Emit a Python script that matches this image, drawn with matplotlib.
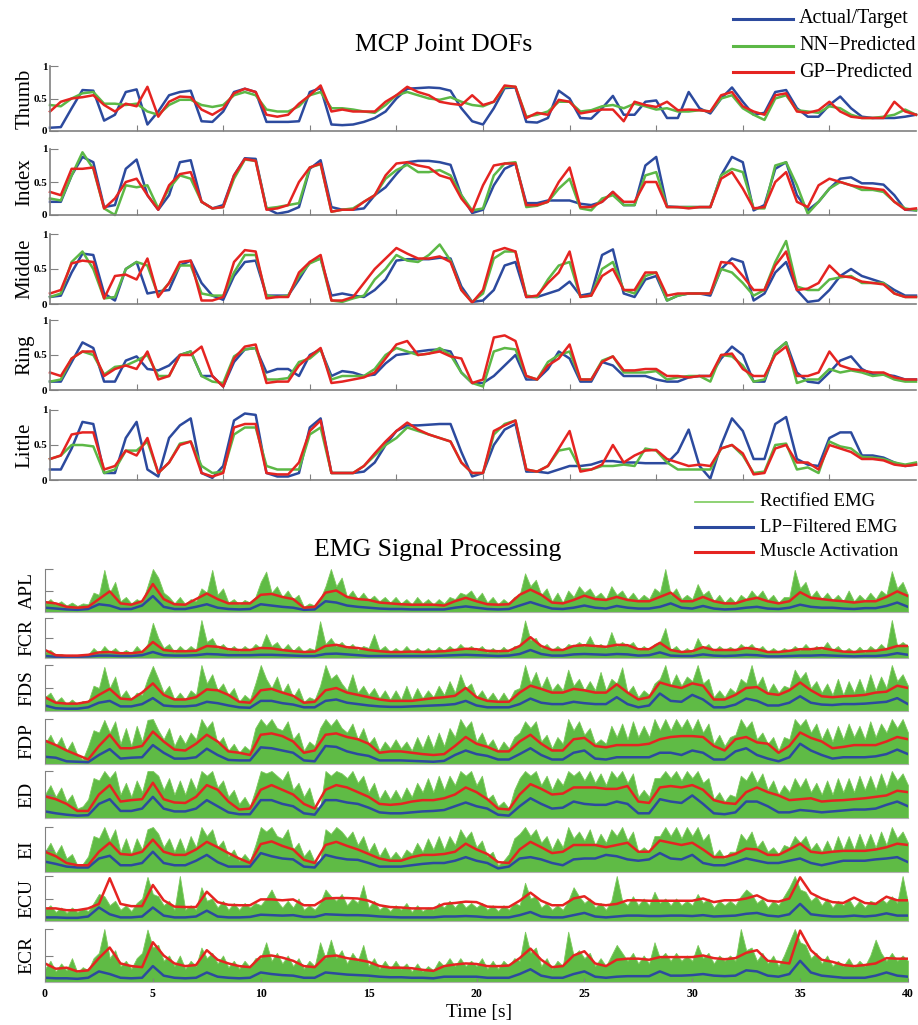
"""
plot.py
-------
MCP joint DOF predictions (top) and EMG processing stages (bottom).
Values are read off the reference figure, in percent of the axis range.
"""

import numpy as np
import matplotlib
matplotlib.use("Agg")
import matplotlib.pyplot as plt
from matplotlib.lines import Line2D

plt.rcParams["font.family"] = ["Liberation Serif", "DejaVu Serif"]

W, H = 918, 1025
BLUE = "#2c4a9e"
GREEN = "#5cb846"
RED = "#e52421"
EMG_GREEN = "#5fbb45"
EMG_EDGE = "#7ccb5c"
GREY = "#808080"

# ── Joint angles, 0.5 s steps, percent ────────────────────────────────────

thumb_actual = [5, 6, 35, 63, 62, 16, 25, 60, 64, 10,
                30, 55, 60, 62, 15, 14, 30, 60, 65, 60,
                14, 14, 14, 15, 60, 66, 10, 9, 10, 14,
                20, 30, 50, 65, 66, 67, 66, 62, 35, 15,
                10, 35, 66, 67, 14, 13, 20, 62, 50, 20,
                19, 35, 54, 25, 25, 45, 47, 20, 20, 60,
                35, 27, 50, 67, 45, 25, 28, 60, 63, 35,
                22, 22, 40, 53, 35, 22, 20, 20, 20, 22, 25]
thumb_nn = [40, 38, 50, 58, 60, 42, 42, 40, 42, 30,
            25, 40, 48, 48, 40, 37, 40, 55, 60, 55,
            33, 30, 30, 38, 55, 60, 35, 35, 33, 30,
            28, 40, 55, 60, 55, 50, 48, 52, 45, 40,
            38, 45, 68, 68, 22, 25, 30, 45, 45, 30,
            32, 38, 40, 35, 42, 38, 33, 35, 30, 30,
            32, 30, 50, 55, 35, 25, 17, 50, 55, 32,
            30, 28, 38, 35, 25, 20, 20, 22, 25, 33, 25]
thumb_gp = [30, 45, 50, 52, 55, 40, 30, 42, 38, 68,
            22, 45, 53, 52, 33, 25, 35, 58, 65, 60,
            25, 22, 25, 42, 55, 70, 30, 33, 30, 30,
            30, 45, 55, 68, 60, 55, 45, 42, 40, 55,
            40, 45, 70, 68, 20, 28, 25, 48, 45, 27,
            30, 33, 33, 15, 45, 40, 37, 45, 32, 33,
            32, 30, 55, 60, 38, 30, 25, 55, 58, 30,
            28, 32, 45, 30, 22, 20, 20, 20, 45, 30, 25]

index_actual = [20, 20, 60, 88, 80, 12, 15, 70, 84, 30,
                8, 30, 80, 83, 20, 10, 15, 60, 86, 85,
                10, 2, 5, 12, 70, 83, 12, 8, 8, 10,
                30, 42, 62, 80, 82, 82, 80, 76, 30, 3,
                8, 45, 70, 78, 18, 18, 22, 22, 22, 17,
                15, 20, 35, 15, 15, 75, 88, 13, 12, 12,
                12, 12, 60, 88, 80, 7, 15, 70, 80, 30,
                7, 20, 40, 55, 57, 48, 48, 46, 30, 8, 7]
index_nn = [25, 22, 60, 95, 70, 10, 0, 45, 42, 45,
            10, 40, 60, 55, 20, 10, 12, 55, 84, 82,
            10, 12, 15, 18, 72, 77, 5, 8, 10, 20,
            30, 55, 68, 76, 65, 65, 68, 60, 30, 7,
            10, 60, 78, 80, 12, 14, 20, 40, 55, 10,
            7, 25, 30, 15, 15, 60, 65, 12, 12, 12,
            12, 12, 60, 70, 65, 10, 10, 75, 80, 45,
            2, 20, 40, 50, 45, 38, 38, 35, 20, 10, 7]
index_gp = [35, 30, 70, 70, 72, 10, 25, 50, 55, 30,
            8, 45, 62, 65, 20, 10, 12, 60, 85, 82,
            8, 10, 15, 50, 72, 78, 5, 8, 8, 20,
            30, 60, 78, 80, 75, 72, 60, 55, 25, 5,
            45, 75, 78, 78, 15, 15, 20, 50, 72, 12,
            12, 20, 35, 20, 20, 50, 50, 12, 12, 10,
            12, 12, 55, 65, 40, 10, 12, 50, 65, 20,
            12, 45, 55, 50, 45, 42, 40, 38, 20, 8, 10]

middle_actual = [10, 12, 45, 72, 70, 15, 5, 50, 60, 15,
                 18, 20, 55, 62, 30, 12, 6, 40, 60, 62,
                 12, 12, 12, 35, 60, 65, 12, 15, 12, 10,
                 20, 35, 62, 64, 64, 64, 66, 65, 25, 3,
                 5, 20, 55, 60, 10, 10, 15, 20, 32, 12,
                 15, 70, 78, 15, 10, 35, 40, 5, 12, 15,
                 15, 12, 50, 65, 60, 5, 15, 45, 60, 20,
                 3, 5, 20, 40, 50, 40, 35, 30, 20, 12, 12]
middle_nn = [10, 15, 60, 75, 50, 8, 10, 50, 60, 55,
             12, 30, 55, 55, 15, 12, 12, 45, 70, 70,
             12, 10, 12, 40, 58, 65, 5, 3, 8, 12,
             35, 50, 70, 62, 60, 70, 85, 62, 20, 3,
             15, 65, 75, 75, 12, 10, 35, 55, 60, 10,
             12, 50, 60, 20, 15, 40, 45, 5, 12, 15,
             15, 15, 50, 45, 30, 12, 20, 60, 90, 25,
             20, 20, 35, 38, 40, 30, 30, 30, 15, 10, 10]
middle_gp = [15, 20, 58, 62, 60, 8, 40, 42, 35, 65,
             10, 30, 60, 62, 5, 5, 10, 60, 77, 75,
             8, 10, 10, 45, 60, 70, 5, 5, 10, 30,
             50, 65, 80, 72, 65, 65, 68, 60, 20, 2,
             20, 75, 80, 75, 10, 12, 30, 45, 75, 10,
             12, 40, 50, 20, 20, 45, 45, 12, 15, 15,
             15, 15, 60, 58, 40, 20, 20, 55, 75, 20,
             22, 30, 55, 40, 38, 32, 30, 28, 15, 10, 10]

ring_actual = [12, 12, 40, 68, 60, 12, 12, 42, 48, 30,
               28, 35, 50, 55, 20, 20, 5, 40, 58, 60,
               25, 30, 30, 20, 50, 58, 20, 27, 25, 20,
               22, 38, 50, 52, 55, 57, 58, 55, 25, 10,
               10, 20, 35, 50, 15, 15, 30, 55, 45, 12,
               12, 40, 35, 20, 20, 20, 15, 12, 12, 18,
               20, 20, 45, 62, 50, 12, 12, 55, 68, 25,
               12, 10, 25, 42, 48, 30, 22, 22, 20, 15, 15]
ring_nn = [12, 15, 45, 55, 50, 22, 33, 35, 42, 50,
           20, 20, 50, 55, 20, 12, 10, 48, 58, 60,
           15, 15, 17, 40, 45, 58, 15, 20, 20, 20,
           30, 50, 60, 55, 50, 52, 60, 50, 25, 10,
           5, 55, 60, 58, 20, 15, 40, 50, 55, 15,
           15, 42, 48, 25, 25, 25, 27, 15, 18, 20,
           20, 12, 50, 48, 35, 12, 15, 55, 68, 10,
           15, 15, 30, 25, 28, 25, 20, 22, 15, 12, 12]
ring_gp = [25, 20, 45, 55, 55, 20, 30, 35, 30, 55,
           15, 20, 50, 50, 62, 20, 5, 45, 62, 65,
           10, 12, 12, 35, 48, 60, 10, 12, 15, 18,
           25, 45, 65, 70, 50, 52, 55, 48, 45, 10,
           15, 75, 78, 70, 20, 15, 35, 45, 65, 15,
           15, 40, 48, 28, 28, 30, 30, 20, 20, 18,
           20, 20, 50, 52, 30, 20, 20, 50, 62, 20,
           20, 25, 55, 35, 30, 28, 25, 25, 18, 15, 15]

little_actual = [15, 15, 45, 83, 80, 10, 10, 60, 83, 15,
                 5, 60, 78, 88, 10, 3, 20, 85, 95, 93,
                 10, 5, 5, 10, 75, 88, 10, 10, 10, 12,
                 25, 50, 70, 78, 78, 79, 80, 80, 40, 5,
                 10, 50, 72, 80, 12, 12, 10, 15, 20, 20,
                 22, 27, 27, 25, 25, 24, 24, 24, 40, 72,
                 20, 2, 50, 88, 70, 30, 30, 80, 90, 30,
                 22, 20, 60, 68, 68, 35, 35, 32, 25, 20, 22]
little_nn = [30, 35, 50, 50, 48, 10, 15, 42, 42, 55,
             10, 25, 52, 55, 20, 10, 12, 65, 75, 75,
             20, 15, 15, 15, 65, 75, 10, 10, 10, 20,
             35, 50, 60, 75, 70, 65, 60, 55, 25, 10,
             10, 65, 80, 85, 15, 12, 20, 42, 45, 15,
             15, 20, 20, 22, 20, 45, 42, 25, 15, 15,
             15, 15, 45, 50, 35, 10, 12, 50, 52, 15,
             18, 10, 55, 48, 45, 33, 32, 30, 25, 22, 25]
little_gp = [30, 35, 65, 68, 68, 15, 20, 42, 35, 60,
             10, 25, 50, 55, 10, 5, 10, 75, 80, 80,
             10, 8, 8, 25, 70, 85, 10, 10, 10, 20,
             38, 55, 70, 82, 72, 65, 60, 55, 25, 10,
             10, 70, 78, 85, 15, 12, 20, 45, 70, 12,
             15, 22, 50, 25, 35, 42, 43, 30, 25, 20,
             22, 20, 45, 50, 38, 8, 10, 45, 50, 25,
             25, 15, 50, 45, 40, 30, 30, 28, 22, 20, 22]

# ── EMG: rectified (0.25 s steps), LP-filtered and activation (0.5 s) ─────

apl_raw = [20, 30, 18, 25, 15, 22, 14, 20, 18, 45, 40, 98, 45, 70, 25, 35,
           20, 30, 22, 60, 100, 80, 45, 35, 20, 35, 18, 30, 25, 55, 45, 98,
           40, 55, 22, 30, 18, 28, 22, 35, 70, 94, 45, 60, 35, 50, 30, 40,
           12, 20, 15, 30, 60, 100, 60, 80, 35, 50, 30, 45, 28, 38, 25, 35,
           22, 35, 20, 30, 18, 35, 20, 30, 18, 30, 20, 35, 30, 45, 40, 50,
           30, 45, 22, 35, 18, 30, 20, 35, 40, 90, 60, 75, 40, 55, 25, 45,
           22, 50, 35, 60, 45, 55, 35, 45, 30, 60, 40, 50, 30, 45, 28, 40,
           30, 55, 45, 100, 40, 55, 30, 40, 30, 65, 40, 50, 25, 40, 22, 35,
           22, 40, 30, 50, 35, 50, 28, 40, 22, 35, 35, 98, 55, 70, 35, 50,
           30, 45, 28, 40, 25, 50, 25, 40, 28, 45, 30, 50, 40, 95, 55, 70, 40]
apl_lp = [10, 8, 6, 5, 7, 18, 15, 7, 7, 15, 37, 12, 7, 7, 12, 18, 10, 7, 6, 7,
          18, 15, 12, 10, 5, 6, 25, 22, 15, 12, 10, 8, 7, 7, 6, 6, 6, 6, 10, 13,
          10, 7, 6, 7, 15, 23, 15, 8, 7, 10, 15, 10, 8, 14, 10, 8, 8, 12, 20, 10,
          8, 14, 8, 6, 7, 10, 12, 8, 7, 10, 17, 12, 10, 10, 8, 7, 9, 9, 14, 22, 12]
apl_act = [23, 20, 12, 10, 12, 30, 48, 20, 17, 25, 65, 30, 18, 17, 30, 43, 30, 20, 20, 20,
           40, 42, 35, 30, 10, 12, 45, 50, 35, 30, 28, 22, 20, 18, 17, 17, 17, 15, 25, 33,
           25, 18, 17, 18, 40, 52, 40, 22, 20, 28, 38, 30, 28, 35, 28, 25, 25, 35, 45, 25,
           25, 35, 25, 20, 20, 28, 33, 25, 20, 25, 46, 33, 30, 27, 25, 22, 25, 25, 35, 48, 37]

fcr_raw = [15, 20, 8, 10, 5, 8, 5, 7, 8, 25, 12, 30, 15, 25, 12, 20,
           12, 30, 15, 35, 88, 50, 25, 35, 15, 30, 18, 30, 20, 95, 40, 50,
           25, 35, 20, 30, 18, 30, 20, 35, 25, 60, 30, 40, 20, 35, 18, 30,
           15, 25, 20, 92, 35, 50, 30, 40, 25, 35, 20, 30, 25, 60, 20, 30,
           15, 25, 15, 30, 15, 25, 15, 25, 15, 28, 18, 30, 20, 35, 22, 30,
           20, 30, 15, 25, 15, 28, 15, 30, 30, 94, 45, 50, 25, 35, 20, 30,
           20, 35, 30, 40, 30, 55, 28, 35, 25, 65, 30, 40, 30, 40, 20, 30,
           20, 35, 40, 75, 20, 30, 15, 25, 15, 50, 25, 35, 18, 30, 20, 28,
           20, 35, 25, 35, 20, 30, 15, 25, 15, 25, 18, 30, 20, 35, 20, 30,
           22, 40, 20, 30, 15, 25, 15, 28, 15, 30, 20, 35, 22, 95, 30, 40, 30]
fcr_lp = [5, 3, 3, 3, 4, 6, 6, 5, 5, 7, 15, 7, 6, 6, 7, 10, 9, 7, 7, 7,
          8, 8, 7, 6, 5, 5, 10, 11, 9, 7, 5, 5, 5, 5, 5, 5, 5, 6, 7, 8,
          7, 6, 5, 6, 10, 20, 10, 6, 6, 9, 10, 9, 8, 10, 9, 6, 7, 14, 6, 5,
          5, 9, 6, 5, 6, 8, 7, 4, 4, 5, 6, 6, 7, 6, 5, 4, 5, 5, 7, 12, 8]
fcr_act = [20, 7, 6, 6, 8, 14, 15, 12, 12, 15, 40, 20, 17, 17, 18, 30, 28, 22, 20, 20,
           25, 24, 20, 17, 15, 16, 30, 33, 27, 25, 20, 17, 15, 15, 16, 15, 16, 17, 20, 23,
           22, 18, 17, 18, 30, 52, 30, 20, 20, 30, 32, 30, 28, 33, 32, 22, 22, 38, 20, 15,
           17, 27, 20, 20, 20, 25, 22, 15, 15, 18, 22, 22, 25, 20, 16, 15, 17, 18, 22, 30, 30]

fds_raw = [30, 40, 20, 30, 15, 25, 15, 22, 20, 55, 50, 96, 50, 75, 30, 45,
           25, 40, 35, 70, 98, 70, 40, 55, 25, 40, 25, 45, 35, 100, 60, 80,
           45, 60, 35, 50, 20, 35, 25, 60, 100, 70, 50, 75, 40, 60, 30, 50,
           20, 30, 25, 55, 100, 70, 80, 60, 45, 80, 40, 55, 35, 50, 28, 45,
           25, 45, 25, 55, 25, 50, 28, 45, 30, 55, 35, 65, 40, 80, 50, 60,
           30, 45, 25, 40, 22, 40, 22, 45, 50, 100, 60, 85, 50, 75, 45, 60,
           45, 90, 55, 70, 45, 65, 45, 85, 45, 70, 60, 95, 40, 55, 30, 45,
           35, 60, 70, 100, 55, 80, 55, 75, 65, 100, 60, 70, 30, 45, 30, 50,
           40, 70, 60, 100, 55, 75, 40, 60, 40, 55, 50, 90, 70, 85, 50, 65,
           40, 60, 35, 70, 35, 65, 40, 70, 40, 80, 45, 75, 50, 100, 65, 80, 55]
fds_lp = [12, 6, 5, 5, 8, 18, 22, 10, 10, 15, 28, 12, 10, 10, 12, 20, 17, 12, 8, 7,
          22, 22, 17, 14, 8, 8, 22, 25, 18, 15, 12, 10, 9, 9, 10, 11, 12, 13, 15, 22,
          12, 8, 8, 8, 15, 27, 18, 15, 15, 20, 17, 15, 15, 30, 15, 8, 12, 38, 22, 20,
          35, 25, 8, 8, 14, 27, 22, 12, 12, 18, 32, 18, 14, 13, 15, 15, 16, 18, 20, 28, 15]
fds_act = [30, 18, 16, 16, 20, 35, 48, 27, 25, 40, 60, 35, 25, 25, 30, 47, 45, 35, 20, 18,
           45, 48, 40, 33, 18, 20, 45, 50, 40, 35, 30, 25, 22, 22, 22, 25, 28, 30, 33, 50,
           30, 22, 20, 20, 40, 55, 48, 40, 40, 48, 45, 40, 40, 58, 40, 25, 30, 62, 55, 50,
           60, 55, 25, 25, 35, 50, 52, 38, 35, 45, 62, 45, 32, 30, 32, 33, 35, 40, 42, 55, 50]

fdp_raw = [45, 65, 40, 60, 30, 50, 20, 10, 40, 75, 70, 98, 70, 95, 45, 80,
           40, 85, 50, 98, 100, 75, 55, 80, 40, 65, 45, 70, 55, 100, 80, 95,
           45, 60, 30, 45, 25, 40, 30, 80, 100, 85, 100, 80, 75, 95, 55, 70,
           30, 50, 40, 80, 100, 85, 100, 80, 70, 90, 55, 80, 45, 60, 30, 50,
           35, 55, 35, 50, 30, 60, 35, 65, 35, 70, 40, 80, 60, 100, 80, 95,
           50, 70, 40, 55, 30, 50, 35, 60, 70, 95, 80, 95, 50, 65, 35, 60,
           45, 100, 75, 95, 65, 80, 45, 55, 45, 85, 60, 90, 55, 95, 60, 85,
           60, 100, 75, 100, 75, 100, 80, 100, 75, 100, 70, 90, 45, 65, 40, 60,
           65, 100, 80, 95, 55, 70, 45, 60, 30, 60, 55, 100, 85, 100, 70, 90,
           55, 80, 50, 85, 55, 90, 60, 85, 55, 95, 60, 90, 70, 100, 80, 100, 70]
fdp_lp = [16, 14, 6, 5, 4, 20, 33, 12, 14, 15, 42, 25, 12, 12, 15, 34, 20, 9, 8, 8,
          37, 35, 30, 25, 8, 6, 40, 38, 28, 22, 18, 8, 8, 8, 7, 6, 5, 7, 20, 30,
          22, 18, 10, 10, 22, 35, 20, 10, 10, 25, 30, 12, 10, 15, 15, 15, 15, 25, 25, 20,
          30, 25, 10, 10, 28, 35, 20, 12, 6, 15, 45, 30, 20, 12, 15, 15, 15, 17, 22, 32, 22]
fdp_act = [52, 42, 30, 20, 10, 40, 65, 35, 35, 40, 72, 50, 32, 30, 45, 65, 50, 28, 25, 20,
           65, 68, 62, 50, 25, 30, 65, 68, 60, 55, 45, 25, 28, 28, 25, 22, 20, 22, 40, 60,
           45, 38, 28, 28, 50, 65, 45, 30, 30, 55, 58, 40, 37, 42, 42, 42, 45, 55, 60, 62,
           62, 60, 40, 30, 55, 60, 48, 45, 25, 40, 70, 58, 50, 35, 38, 42, 42, 42, 50, 60, 55]

ed_raw = [50, 70, 45, 65, 35, 50, 20, 25, 40, 85, 80, 100, 85, 100, 50, 75,
          45, 80, 55, 100, 100, 90, 60, 85, 50, 80, 50, 85, 60, 100, 90, 100,
          65, 80, 45, 60, 30, 45, 25, 60, 100, 95, 100, 90, 80, 100, 60, 75,
          45, 65, 25, 20, 100, 90, 100, 95, 85, 100, 75, 90, 55, 75, 40, 60,
          40, 60, 40, 65, 45, 75, 55, 85, 55, 90, 60, 90, 70, 100, 90, 100,
          70, 90, 40, 50, 25, 35, 20, 60, 85, 100, 90, 100, 70, 90, 60, 85,
          70, 100, 90, 100, 80, 100, 75, 95, 70, 100, 85, 100, 75, 95, 45, 60,
          45, 85, 85, 100, 85, 100, 80, 100, 85, 100, 75, 85, 40, 55, 35, 50,
          45, 90, 80, 100, 75, 95, 60, 80, 50, 70, 55, 85, 65, 85, 55, 75,
          50, 80, 50, 85, 55, 85, 55, 90, 60, 90, 60, 95, 65, 100, 80, 95, 70]
ed_lp = [14, 10, 7, 5, 6, 30, 40, 15, 15, 20, 45, 20, 14, 14, 20, 38, 25, 12, 8, 8,
         38, 38, 30, 25, 10, 7, 38, 38, 33, 30, 22, 12, 10, 10, 12, 14, 15, 17, 25, 33,
         25, 20, 7, 5, 25, 42, 30, 20, 22, 35, 30, 28, 28, 35, 30, 10, 10, 40, 35, 32,
         48, 30, 10, 8, 12, 35, 35, 25, 12, 12, 17, 15, 12, 14, 16, 18, 18, 20, 28, 35, 25]
ed_act = [46, 40, 30, 15, 15, 50, 70, 35, 38, 40, 75, 40, 33, 32, 45, 70, 60, 35, 18, 20,
          60, 70, 60, 50, 30, 20, 60, 70, 65, 55, 45, 30, 28, 30, 35, 38, 38, 42, 50, 65,
          55, 40, 20, 18, 50, 72, 62, 50, 52, 65, 65, 65, 62, 62, 68, 35, 32, 65, 68, 65,
          70, 60, 38, 32, 30, 55, 65, 55, 48, 38, 40, 42, 35, 37, 38, 40, 42, 45, 48, 58, 55]

ei_raw = [45, 65, 40, 60, 30, 40, 15, 18, 35, 80, 75, 100, 70, 95, 45, 75,
          40, 75, 50, 95, 100, 85, 55, 75, 45, 75, 45, 80, 55, 100, 80, 95,
          55, 70, 35, 50, 25, 40, 25, 60, 100, 90, 100, 80, 75, 95, 50, 65,
          35, 50, 22, 25, 95, 85, 100, 90, 75, 90, 60, 80, 45, 65, 35, 55,
          30, 45, 30, 50, 40, 65, 45, 75, 50, 80, 50, 80, 60, 95, 75, 90,
          55, 70, 35, 45, 15, 25, 40, 75, 85, 100, 80, 95, 65, 80, 50, 75,
          55, 100, 75, 90, 70, 95, 60, 85, 65, 95, 80, 100, 70, 90, 45, 55,
          45, 80, 80, 100, 80, 100, 75, 100, 80, 100, 70, 85, 35, 50, 30, 45,
          45, 85, 70, 90, 55, 70, 45, 55, 40, 60, 55, 80, 65, 80, 50, 65,
          45, 70, 45, 80, 50, 80, 50, 85, 55, 85, 55, 90, 60, 100, 75, 90, 65]
ei_lp = [23, 18, 12, 10, 10, 30, 36, 15, 15, 20, 45, 20, 15, 15, 25, 38, 22, 12, 12, 12,
         42, 35, 30, 28, 12, 10, 38, 32, 28, 27, 20, 12, 12, 12, 15, 18, 20, 20, 25, 33,
         25, 20, 8, 12, 30, 33, 28, 20, 15, 28, 30, 30, 38, 35, 28, 25, 28, 42, 30, 28,
         38, 20, 15, 15, 22, 30, 25, 20, 20, 25, 30, 20, 15, 20, 25, 25, 25, 28, 30, 33, 22]
ei_act = [45, 35, 20, 15, 15, 45, 65, 40, 38, 45, 72, 45, 38, 38, 50, 67, 55, 42, 30, 20,
          62, 68, 58, 50, 27, 20, 60, 67, 58, 50, 40, 30, 25, 25, 33, 38, 38, 40, 45, 63,
          50, 40, 22, 20, 50, 67, 55, 42, 45, 60, 60, 60, 55, 60, 65, 45, 45, 70, 65, 60,
          65, 50, 33, 33, 40, 52, 50, 38, 38, 50, 63, 45, 42, 45, 47, 47, 47, 50, 55, 63, 60]

ecu_raw = [25, 35, 20, 30, 18, 30, 20, 28, 22, 40, 60, 55, 35, 45, 25, 35,
           22, 40, 50, 98, 60, 55, 35, 45, 25, 100, 25, 35, 25, 75, 45, 50,
           30, 45, 25, 40, 25, 40, 30, 40, 35, 50, 70, 45, 30, 45, 30, 50,
           25, 35, 25, 40, 70, 55, 45, 60, 35, 50, 40, 80, 30, 45, 25, 35,
           22, 35, 25, 40, 20, 35, 22, 30, 25, 40, 30, 45, 30, 45, 30, 40,
           30, 40, 25, 35, 22, 35, 25, 40, 35, 85, 50, 55, 30, 40, 25, 35,
           25, 45, 75, 55, 40, 50, 30, 40, 25, 45, 100, 45, 35, 55, 35, 50,
           35, 65, 40, 50, 35, 50, 35, 45, 35, 60, 40, 50, 30, 45, 35, 45,
           35, 55, 70, 60, 40, 50, 30, 45, 35, 55, 75, 100, 70, 65, 45, 55,
           35, 50, 30, 45, 35, 50, 30, 45, 30, 45, 40, 50, 40, 55, 40, 100, 40]
ecu_lp = [8, 8, 7, 7, 10, 30, 15, 8, 8, 10, 30, 12, 8, 8, 10, 23, 10, 8, 8, 9,
          14, 13, 12, 13, 9, 9, 15, 14, 13, 13, 12, 10, 9, 8, 8, 8, 8, 10, 10, 11,
          10, 8, 8, 8, 13, 20, 10, 8, 8, 13, 18, 10, 8, 10, 12, 12, 11, 11, 12, 12,
          11, 13, 10, 11, 12, 16, 18, 12, 10, 15, 38, 15, 12, 10, 10, 12, 10, 12, 17, 12, 12]
ecu_act = [28, 28, 24, 24, 28, 38, 95, 38, 33, 33, 80, 46, 32, 31, 31, 65, 42, 36, 35, 35,
           48, 48, 46, 48, 35, 35, 50, 51, 51, 50, 45, 35, 31, 30, 28, 28, 28, 38, 40, 43,
           42, 32, 31, 31, 45, 63, 45, 35, 35, 50, 55, 38, 35, 38, 46, 46, 45, 45, 45, 45,
           45, 50, 42, 46, 46, 50, 57, 45, 43, 50, 97, 62, 50, 42, 40, 52, 40, 38, 54, 46, 46]

ecr_raw = [25, 40, 20, 35, 22, 45, 18, 28, 22, 45, 55, 100, 45, 60, 30, 40,
           25, 45, 55, 99, 65, 70, 40, 50, 30, 50, 25, 40, 30, 65, 45, 55,
           35, 50, 28, 40, 25, 40, 28, 45, 45, 75, 40, 55, 35, 50, 30, 45,
           25, 40, 30, 75, 45, 80, 45, 60, 35, 55, 40, 70, 30, 45, 25, 40,
           25, 40, 25, 35, 20, 35, 20, 30, 22, 40, 30, 45, 30, 45, 30, 40,
           30, 45, 25, 40, 25, 40, 30, 45, 40, 95, 55, 65, 30, 45, 25, 40,
           30, 95, 50, 60, 45, 55, 30, 45, 30, 50, 70, 55, 40, 55, 35, 50,
           35, 75, 45, 55, 40, 55, 40, 50, 40, 70, 45, 55, 35, 50, 40, 50,
           40, 100, 60, 65, 40, 55, 35, 50, 30, 50, 75, 100, 75, 70, 45, 55,
           35, 50, 30, 40, 30, 45, 28, 40, 30, 50, 80, 55, 40, 55, 40, 50, 40]
ecr_lp = [8, 7, 7, 6, 8, 20, 15, 8, 7, 8, 30, 12, 8, 7, 8, 18, 10, 8, 7, 8,
          18, 15, 13, 12, 8, 8, 18, 16, 14, 13, 12, 10, 9, 9, 8, 8, 7, 10, 10, 10,
          10, 8, 8, 8, 15, 24, 12, 8, 8, 15, 20, 10, 8, 10, 11, 11, 11, 20, 12, 12,
          13, 15, 12, 11, 12, 22, 20, 12, 10, 15, 40, 18, 12, 10, 8, 8, 8, 12, 18, 12, 10]
ecr_act = [35, 25, 27, 20, 22, 45, 65, 35, 30, 28, 75, 50, 35, 30, 32, 60, 42, 35, 30, 28,
           48, 50, 46, 40, 30, 28, 48, 50, 45, 42, 38, 30, 27, 27, 26, 23, 21, 30, 33, 35,
           34, 30, 30, 31, 45, 63, 42, 28, 30, 50, 58, 35, 30, 42, 44, 44, 42, 47, 47, 47,
           47, 50, 45, 43, 45, 55, 60, 40, 38, 35, 97, 60, 42, 38, 32, 30, 32, 35, 45, 44, 44]

joint_names = ["Thumb", "Index", "Middle", "Ring", "Little"]
joint_data = [
    (thumb_actual, thumb_nn, thumb_gp),
    (index_actual, index_nn, index_gp),
    (middle_actual, middle_nn, middle_gp),
    (ring_actual, ring_nn, ring_gp),
    (little_actual, little_nn, little_gp),
]
muscle_names = ["APL", "FCR", "FDS", "FDP", "ED", "EI", "ECU", "ECR"]
muscle_data = [
    (apl_raw, apl_lp, apl_act), (fcr_raw, fcr_lp, fcr_act),
    (fds_raw, fds_lp, fds_act), (fdp_raw, fdp_lp, fdp_act),
    (ed_raw, ed_lp, ed_act), (ei_raw, ei_lp, ei_act),
    (ecu_raw, ecu_lp, ecu_act), (ecr_raw, ecr_lp, ecr_act),
]

# pixel rows (top, bottom) of each panel in the 918x1025 picture
joint_rows = [(66, 131), (149, 215), (234, 304), (320, 390), (410, 480)]
muscle_rows = [(569, 612), (618, 658), (665, 711), (719, 764),
               (771, 818), (827, 872), (876, 921), (929, 982)]


def px_axes(fig, x0, x1, y_top, y_bot):
    return fig.add_axes([x0 / W, 1 - y_bot / H, (x1 - x0) / W, (y_bot - y_top) / H])


def series(vals):
    v = np.asarray(vals, dtype=float) / 100.0
    return np.linspace(0, 40, len(v)), v


def fig_line(fig, x0, x1, y, color, lw):
    fig.add_artist(Line2D([x0 / W, x1 / W], [1 - y / H, 1 - y / H],
                          transform=fig.transFigure, color=color, lw=lw))


def fig_text(fig, x, y, s, **kw):
    fig.text(x / W, 1 - y / H, s, **kw)


fig = plt.figure(figsize=(W / 100, H / 100), dpi=100)

# ── MCP joints ─────────────────────────────────────────────────────────────

for name, (actual, nn, gp), (yt, yb) in zip(joint_names, joint_data, joint_rows):
    ax = px_axes(fig, 50, 916, yt, yb)
    for vals, col in [(actual, BLUE), (nn, GREEN), (gp, RED)]:
        t, v = series(vals)
        ax.plot(t, v, color=col, lw=1.8, clip_on=False, solid_joinstyle="round")
    ax.set_xlim(0, 40)
    ax.set_ylim(0, 1)
    for side in ["top", "right"]:
        ax.spines[side].set_visible(False)
    for side in ["left", "bottom"]:
        ax.spines[side].set_color(GREY)
        ax.spines[side].set_linewidth(1.2)
    ax.set_yticks([0, 0.5, 1])
    ax.set_yticklabels(["0", "0.5", "1"], fontsize=8, fontweight="bold")
    ax.tick_params(axis="y", direction="in", length=6, color=GREY, pad=2)
    ax.set_xticks(range(4, 40, 4))
    ax.tick_params(axis="x", direction="in", length=4, color=GREY, labelbottom=False)
    fig_text(fig, 25, (yt + yb) / 2, name, rotation=90, ha="center", va="center", fontsize=15)

fig_text(fig, 444, 45, "MCP Joint DOFs", ha="center", va="center", fontsize=18.5)

for y, col, lab in [(19, BLUE, "Actual/Target"), (46, GREEN, "NN\u2212Predicted"),
                    (72, RED, "GP\u2212Predicted")]:
    fig_line(fig, 733, 793, y, col, 2.2)
    fig_text(fig, 799, y, lab, ha="left", va="center", fontsize=14.5)

# ── EMG processing ────────────────────────────────────────────────────────

for i, (name, (raw, lp, act), (yt, yb)) in enumerate(zip(muscle_names, muscle_data, muscle_rows)):
    ax = px_axes(fig, 45, 908, yt, yb)
    t, v = series(raw)
    ax.fill_between(t, 0, v, facecolor=EMG_GREEN, edgecolor=EMG_EDGE, lw=0.6)
    t, v = series(lp)
    ax.plot(t, v, color=BLUE, lw=1.8, solid_joinstyle="round")
    t, v = series(act)
    ax.plot(t, v, color=RED, lw=1.8, solid_joinstyle="round")
    ax.set_xlim(0, 40)
    ax.set_ylim(0, 1)
    for side in ["top", "right"]:
        ax.spines[side].set_visible(False)
    ax.spines["left"].set_color(GREY)
    ax.spines["bottom"].set_color("#b0b0b0")
    ax.set_yticks([0.5, 1])
    ax.set_yticklabels([])
    ax.tick_params(axis="y", direction="in", length=6, color=GREY)
    ax.set_xticks(range(0, 41, 5))
    if i == len(muscle_names) - 1:
        ax.set_xticklabels([str(x) for x in range(0, 41, 5)], fontsize=8.5, fontweight="bold")
        ax.tick_params(axis="x", direction="in", length=3, color=GREY, pad=4)
    else:
        ax.tick_params(axis="x", direction="in", length=0, labelbottom=False)
    fig_text(fig, 27, (yt + yb) / 2, name, rotation=90, ha="center", va="center", fontsize=14)

fig_text(fig, 438, 550, "EMG Signal Processing", ha="center", va="center", fontsize=18.5)
fig_text(fig, 479, 1012, "Time [s]", ha="center", va="center", fontsize=14)

for y, col, lw, lab in [(502, EMG_EDGE, 1.2, "Rectified EMG"),
                        (527, BLUE, 2.2, "LP\u2212Filtered EMG"),
                        (552, RED, 2.2, "Muscle Activation")]:
    fig_line(fig, 695, 753, y, col, lw)
    fig_text(fig, 760, y, lab, ha="left", va="center", fontsize=13.5)

fig.savefig("out.png", dpi=100)
